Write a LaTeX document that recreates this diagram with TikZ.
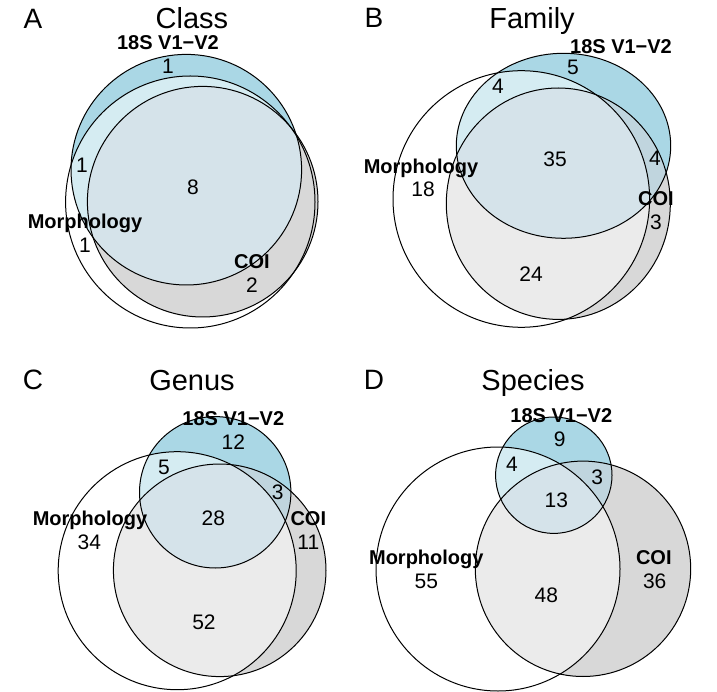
\documentclass[tikz,border=0pt]{standalone}
\usepackage{fontspec}
\setmainfont{Liberation Sans}
\definecolor{cA}{RGB}{170,215,229}
\definecolor{cB}{RGB}{216,216,216}
\definecolor{cAB}{RGB}{192,213,222}
\definecolor{cAM}{RGB}{213,236,242}
\definecolor{cBM}{RGB}{235,235,235}
\definecolor{cABM}{RGB}{213,227,234}
\newcommand\vennfill[4]{%
  \fill[cA] #1; \fill[cB] #2;
  \begin{scope}\clip #1; \fill[cAB] #2; \end{scope}
  \begin{scope}\clip #3; \fill[cAM] #1; \fill[#4] #2; \clip #1; \fill[cABM] #2; \end{scope}
  \draw[vline] #3; \draw[vline] #1; \draw[vline] #2;
}
\begin{document}
\begin{tikzpicture}[x=1pt,y=-1pt,
  vline/.style={line width=1pt, draw=black},
  lbl/.style={inner sep=0pt, anchor=base, font=\fontsize{20}{20}\selectfont\bfseries},
  num/.style={inner sep=0pt, anchor=base, font=\fontsize{21}{21}\selectfont},
  ttl/.style={inner sep=0pt, anchor=base, font=\fontsize{29}{29}\selectfont},
  pnl/.style={inner sep=0pt, anchor=base, font=\fontsize{28}{28}\selectfont}]
\fill[white] (0,0) rectangle (717,692);
\useasboundingbox (0,0) rectangle (717,692);

% ---------- A: Class ----------
\vennfill{(186.3,169.7) circle (115.3pt)}{(202.7,201.7) circle (115.3pt)}{(190.3,202) ellipse (124.7pt and 126pt)}{cB}
\node[pnl] (pA) at (33,28.5) {A};
\node[ttl] (tA) at (192,29) {Class};
\node[lbl] (sA) at (168,50) {18S V1−V2};
\node[num] (a1) at (168,74) {1};
\node[num] (a2) at (82,173) {1};
\node[num] (a3) at (193,194.5) {8};
\node[lbl] (mA) at (85,229) {Morphology};
\node[num] (a4) at (85,253) {1};
\node[lbl] (cA1) at (252,269) {COI};
\node[num] (a5) at (252,293) {2};

% ---------- B: Family ----------
\vennfill{(563.5,145.8) ellipse (107.2pt and 92.5pt)}{(558.3,203.7) ellipse (112pt and 115.7pt)}{(521.3,199) circle (128.3pt)}{cBM}
\node[pnl] (pB) at (374,28) {B};
\node[ttl] (tB) at (532,28.5) {Family};
\node[lbl] (sB) at (621,53.3) {18S V1−V2};
\node[num] (b1) at (573,75) {5};
\node[num] (b2) at (498,93.3) {4};
\node[num] (b3) at (555,166.7) {35};
\node[num] (b4) at (655,165.7) {4};
\node[lbl] (mB) at (421,173.3) {Morphology};
\node[num] (b5) at (423,196.7) {18};
\node[lbl] (cB1) at (656,206) {COI};
\node[num] (b6) at (656,230) {3};
\node[num] (b7) at (531,281.7) {24};

% ---------- C: Genus ----------
\vennfill{(215.2,492.3) circle (75.7pt)}{(219.7,570.3) circle (106.3pt)}{(177.2,570.7) circle (119pt)}{cBM}
\node[pnl] (pC) at (33,389.3) {C};
\node[ttl] (tC) at (192,390) {Genus};
\node[lbl] (sC) at (233.3,425) {18S V1−V2};
\node[num] (c1) at (233.3,449.3) {12};
\node[num] (c2) at (164,474.3) {5};
\node[num] (c3) at (277.7,499.3) {3};
\node[num] (c4) at (213.3,525) {28};
\node[lbl] (mC) at (90,525) {Morphology};
\node[lbl] (cC1) at (308.3,525) {COI};
\node[num] (c5) at (89.3,549.3) {34};
\node[num] (c6) at (308.3,549.3) {11};
\node[num] (c7) at (204,629.3) {52};

% ---------- D: Species ----------
\vennfill{(553.8,475.2) circle (58.2pt)}{(583,568.8) circle (107.7pt)}{(498,569) circle (122pt)}{cBM}
\node[pnl] (pD) at (374,389.3) {D};
\node[ttl] (tD) at (533,390) {Species};
\node[lbl] (sD) at (561.3,422) {18S V1−V2};
\node[num] (d1) at (559.7,446) {9};
\node[num] (d2) at (512,471) {4};
\node[num] (d3) at (597.3,484.3) {3};
\node[num] (d4) at (556.3,507.7) {13};
\node[lbl] (mD) at (426.3,564.3) {Morphology};
\node[num] (d5) at (426.3,588.7) {55};
\node[lbl] (cD1) at (653.8,564.3) {COI};
\node[num] (d6) at (654.7,588.7) {36};
\node[num] (d7) at (546.3,602.7) {48};
\end{tikzpicture}
\end{document}
